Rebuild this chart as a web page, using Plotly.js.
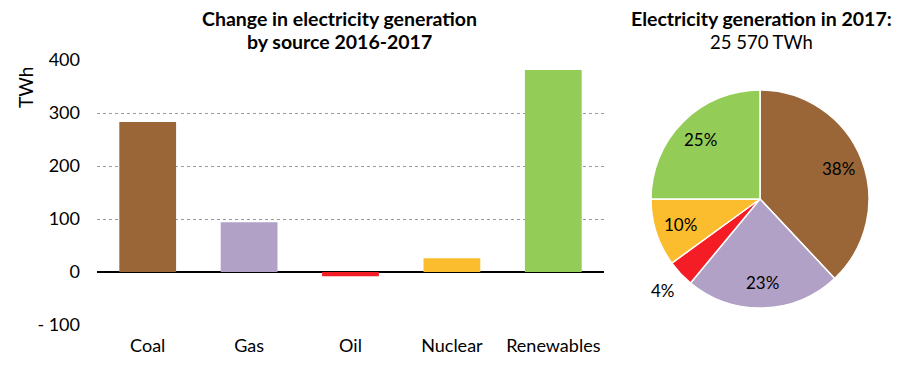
<!DOCTYPE html>
<html>
<head>
<meta charset="utf-8">
<script src="https://cdn.plot.ly/plotly-3.0.1.min.js"></script>
<style>html,body{margin:0;padding:0;background:#fff;}#chart{width:905px;height:375px;}</style>
</head>
<body>
<div id="chart"></div>
<script>
const categories = ["Coal", "Gas", "Oil", "Nuclear", "Renewables"];
const changeTWh = [283, 94, -8, 26, 381];
const sharePct = [38, 23, 4, 10, 25];
const colors = ["#9A6638", "#B2A1C7", "#F41C25", "#FBBD2E", "#94CC58"];
const yTickVals = [-100, 0, 100, 200, 300, 400];
const yTickText = ["- 100", "0", "100", "200", "300", "400"];

const FONT = "Lato, 'Open Sans', sans-serif";
const W = 905, H = 375;

// pie geometry (pixels)
const pieCx = 760, pieCy = 199, pieR = 109;
const pieDomain = {x: [(pieCx - pieR) / W, (pieCx + pieR) / W], y: [(H - pieCy - pieR) / H, (H - pieCy + pieR) / H]};

const traces = [
  {
    type: "bar",
    x: categories,
    y: changeTWh,
    marker: {color: colors},
    xaxis: "x", yaxis: "y",
    showlegend: false
  },
  {
    type: "pie",
    labels: categories,
    values: sharePct,
    sort: false,
    direction: "clockwise",
    rotation: 0,
    marker: {colors: colors, line: {color: "#ffffff", width: 1.5}},
    textinfo: "none",
    domain: pieDomain,
    showlegend: false,
    automargin: false
  }
];

// Pie labels, placed from the data's cumulative angles
const total = sharePct.reduce((a, b) => a + b, 0);
const pieAnn = [];
let cum = 0;
sharePct.forEach((v, i) => {
  const mid = (cum + v / 2) / total * 2 * Math.PI;
  cum += v;
  const outside = v / total < 0.05;
  const rf = outside ? 1.22 : 0.77;
  const px = pieCx + Math.sin(mid) * pieR * rf;
  const py = pieCy - Math.cos(mid) * pieR * rf;
  pieAnn.push({
    text: v + "%", x: px / W, y: 1 - py / H, xref: "paper", yref: "paper",
    showarrow: false, xanchor: "center", yanchor: "middle",
    font: {family: FONT, size: 17, color: "#000"}
  });
});

const layout = {
  width: W, height: H,
  margin: {l: 0, r: 0, t: 0, b: 0},
  paper_bgcolor: "#fff", plot_bgcolor: "#fff",
  font: {family: FONT, size: 18, color: "#000"},
  bargap: 0.44,
  showlegend: false,
  xaxis: {
    domain: [97 / W, 604 / W],
    showgrid: false, showline: false, zeroline: false,
    ticks: "", ticklabelstandoff: 8,
    tickfont: {family: FONT, size: 18, color: "#000"},
    anchor: "y", fixedrange: true
  },
  yaxis: {
    domain: [(H - 325) / H, (H - 60) / H],
    range: [-100, 400],
    tickvals: yTickVals, ticktext: yTickText,
    showgrid: true, gridcolor: "#9a9a9a", griddash: "dot", gridwidth: 1,
    zeroline: true, zerolinecolor: "#000", zerolinewidth: 1.5,
    showline: false, ticks: "",
    ticklabelstandoff: 16,
    tickfont: {family: FONT, size: 18, color: "#000"},
    anchor: "x", fixedrange: true
  },
  annotations: [
    {text: "<b>Change in electricity generation</b>", x: 339 / W, y: 1 - 18 / H, xref: "paper", yref: "paper",
     showarrow: false, xanchor: "center", yanchor: "middle", font: {family: FONT, size: 19.5, color: "#000"}},
    {text: "<b>by source 2016-2017</b>", x: 339 / W, y: 1 - 42 / H, xref: "paper", yref: "paper",
     showarrow: false, xanchor: "center", yanchor: "middle", font: {family: FONT, size: 19.5, color: "#000"}},
    {text: "<b>Electricity generation in 2017:</b>", x: 761 / W, y: 1 - 18 / H, xref: "paper", yref: "paper",
     showarrow: false, xanchor: "center", yanchor: "middle", font: {family: FONT, size: 19.5, color: "#000"}},
    {text: "25 570 TWh", x: 761 / W, y: 1 - 42 / H, xref: "paper", yref: "paper",
     showarrow: false, xanchor: "center", yanchor: "middle", font: {family: FONT, size: 18.5, color: "#000"}},
    {text: "TWh", x: 25 / W, y: 1 - 88 / H, xref: "paper", yref: "paper", textangle: -90,
     showarrow: false, xanchor: "center", yanchor: "middle", font: {family: FONT, size: 19, color: "#000"}}
  ].concat(pieAnn)
};

Plotly.newPlot("chart", traces, layout, {displayModeBar: false, staticPlot: true});
</script>
</body>
</html>
